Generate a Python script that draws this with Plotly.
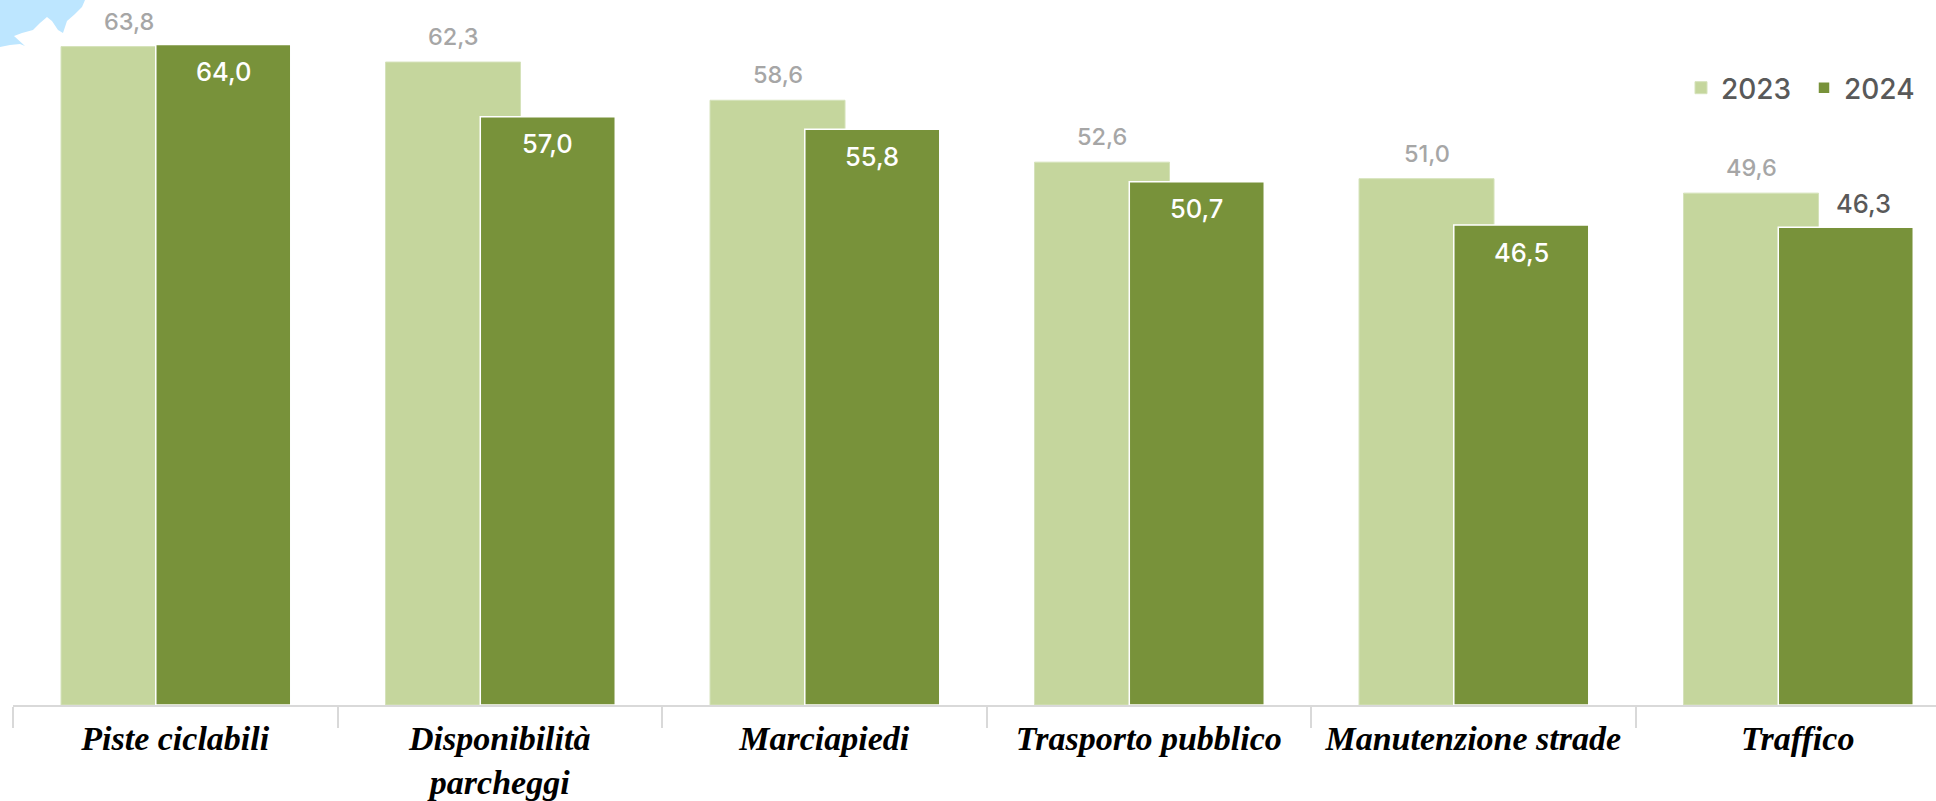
import plotly.graph_objects as go

categories = ["Piste ciclabili", "Disponibilità<br>parcheggi", "Marciapiedi",
              "Trasporto pubblico", "Manutenzione strade", "Traffico"]
values_2023 = [63.8, 62.3, 58.6, 52.6, 51.0, 49.6]
values_2024 = [64.0, 57.0, 55.8, 50.7, 46.5, 46.3]
blob_x = [0, 10, 20, 25, 14, 22, 33, 40, 47, 52, 58, 63, 67, 75, 82, 85, 0]
blob_y = [47, 45, 44, 46, 36, 33, 30, 23, 17, 21, 30, 33, 21, 14, 7, 0, 0]

W, H = 1936, 801
L, B = 13, 96
PW, PH = W - L, H - B
CAT = 324.5
LIGHT, DARK, GREY, TXT = "#C5D69D", "#78923A", "#A6A6A6", "#595959"
fmt = lambda v: f"{v:.1f}".replace(".", ",")

fig = go.Figure()
fig.add_bar(name="2023", x=categories, y=values_2023, width=0.416, offset=-0.352,
            marker=dict(color=LIGHT, line=dict(color="#D5E2BA", width=1)))
fig.add_bar(name="2024", x=categories, y=values_2024, width=0.416, offset=-0.060,
            marker=dict(color=DARK, line=dict(color="#FFFFFF", width=1.5)))

ann = []
for i, v in enumerate(values_2023):
    ann.append(dict(x=i - 0.144, y=v, xref="x", yref="y", text=fmt(v), showarrow=False,
                    yanchor="middle", yshift=25.5,
                    font=dict(family="Inter", size=23.5, color=GREY, weight=500)))
for i, v in enumerate(values_2024):
    last = i == len(values_2024) - 1
    ann.append(dict(x=i + 0.148, y=v, xref="x", yref="y", text=fmt(v), showarrow=False,
                    yanchor="middle", yshift=24 if last else -27, xshift=18 if last else 0,
                    font=dict(family="Inter", size=25.5, color=TXT if last else "#FFFFFF", weight=500)))

path = "M" + " L".join(f"{(x - L) / PW:.5f},{1 - y / PH:.5f}" for x, y in zip(blob_x, blob_y)) + " Z"
fig.update_layout(
    width=W, height=H, barmode="overlay", showlegend=True,
    margin=dict(l=L, r=0, t=0, b=B, pad=0, autoexpand=False),
    paper_bgcolor="white", plot_bgcolor="rgba(0,0,0,0)",
    annotations=ann,
    shapes=[dict(type="path", xref="paper", yref="paper", path=path,
                 fillcolor="#BDE6FF", line=dict(width=0), layer="below")],
    legend=dict(orientation="h", x=(1681 - L) / PW, xanchor="left", y=1 - 88 / PH, yanchor="middle",
                font=dict(family="Inter", size=28, color=TXT, weight=500), itemwidth=30,
                entrywidth=78, entrywidthmode="pixels",
                bgcolor="rgba(0,0,0,0)", traceorder="normal"),
    xaxis=dict(type="category", range=[-0.5, -0.5 + PW / CAT], tickson="boundaries", automargin=False,
               ticks="outside", ticklen=21, tickwidth=2, tickcolor="#D9D9D9",
               showline=True, linecolor="#D9D9D9", linewidth=2, showgrid=False, zeroline=False,
               tickangle=0, ticklabelstandoff=2,
               tickfont=dict(family="Liberation Serif", size=34, color="#000000", style="italic", weight="bold")),
    yaxis=dict(range=[0, PH / 10.32], visible=False, showgrid=False, zeroline=False, automargin=False),
)
fig.write_html("out.html", config=dict(displayModeBar=False),
               post_script="document.body.style.margin='0';document.documentElement.style.overflow='hidden';")
